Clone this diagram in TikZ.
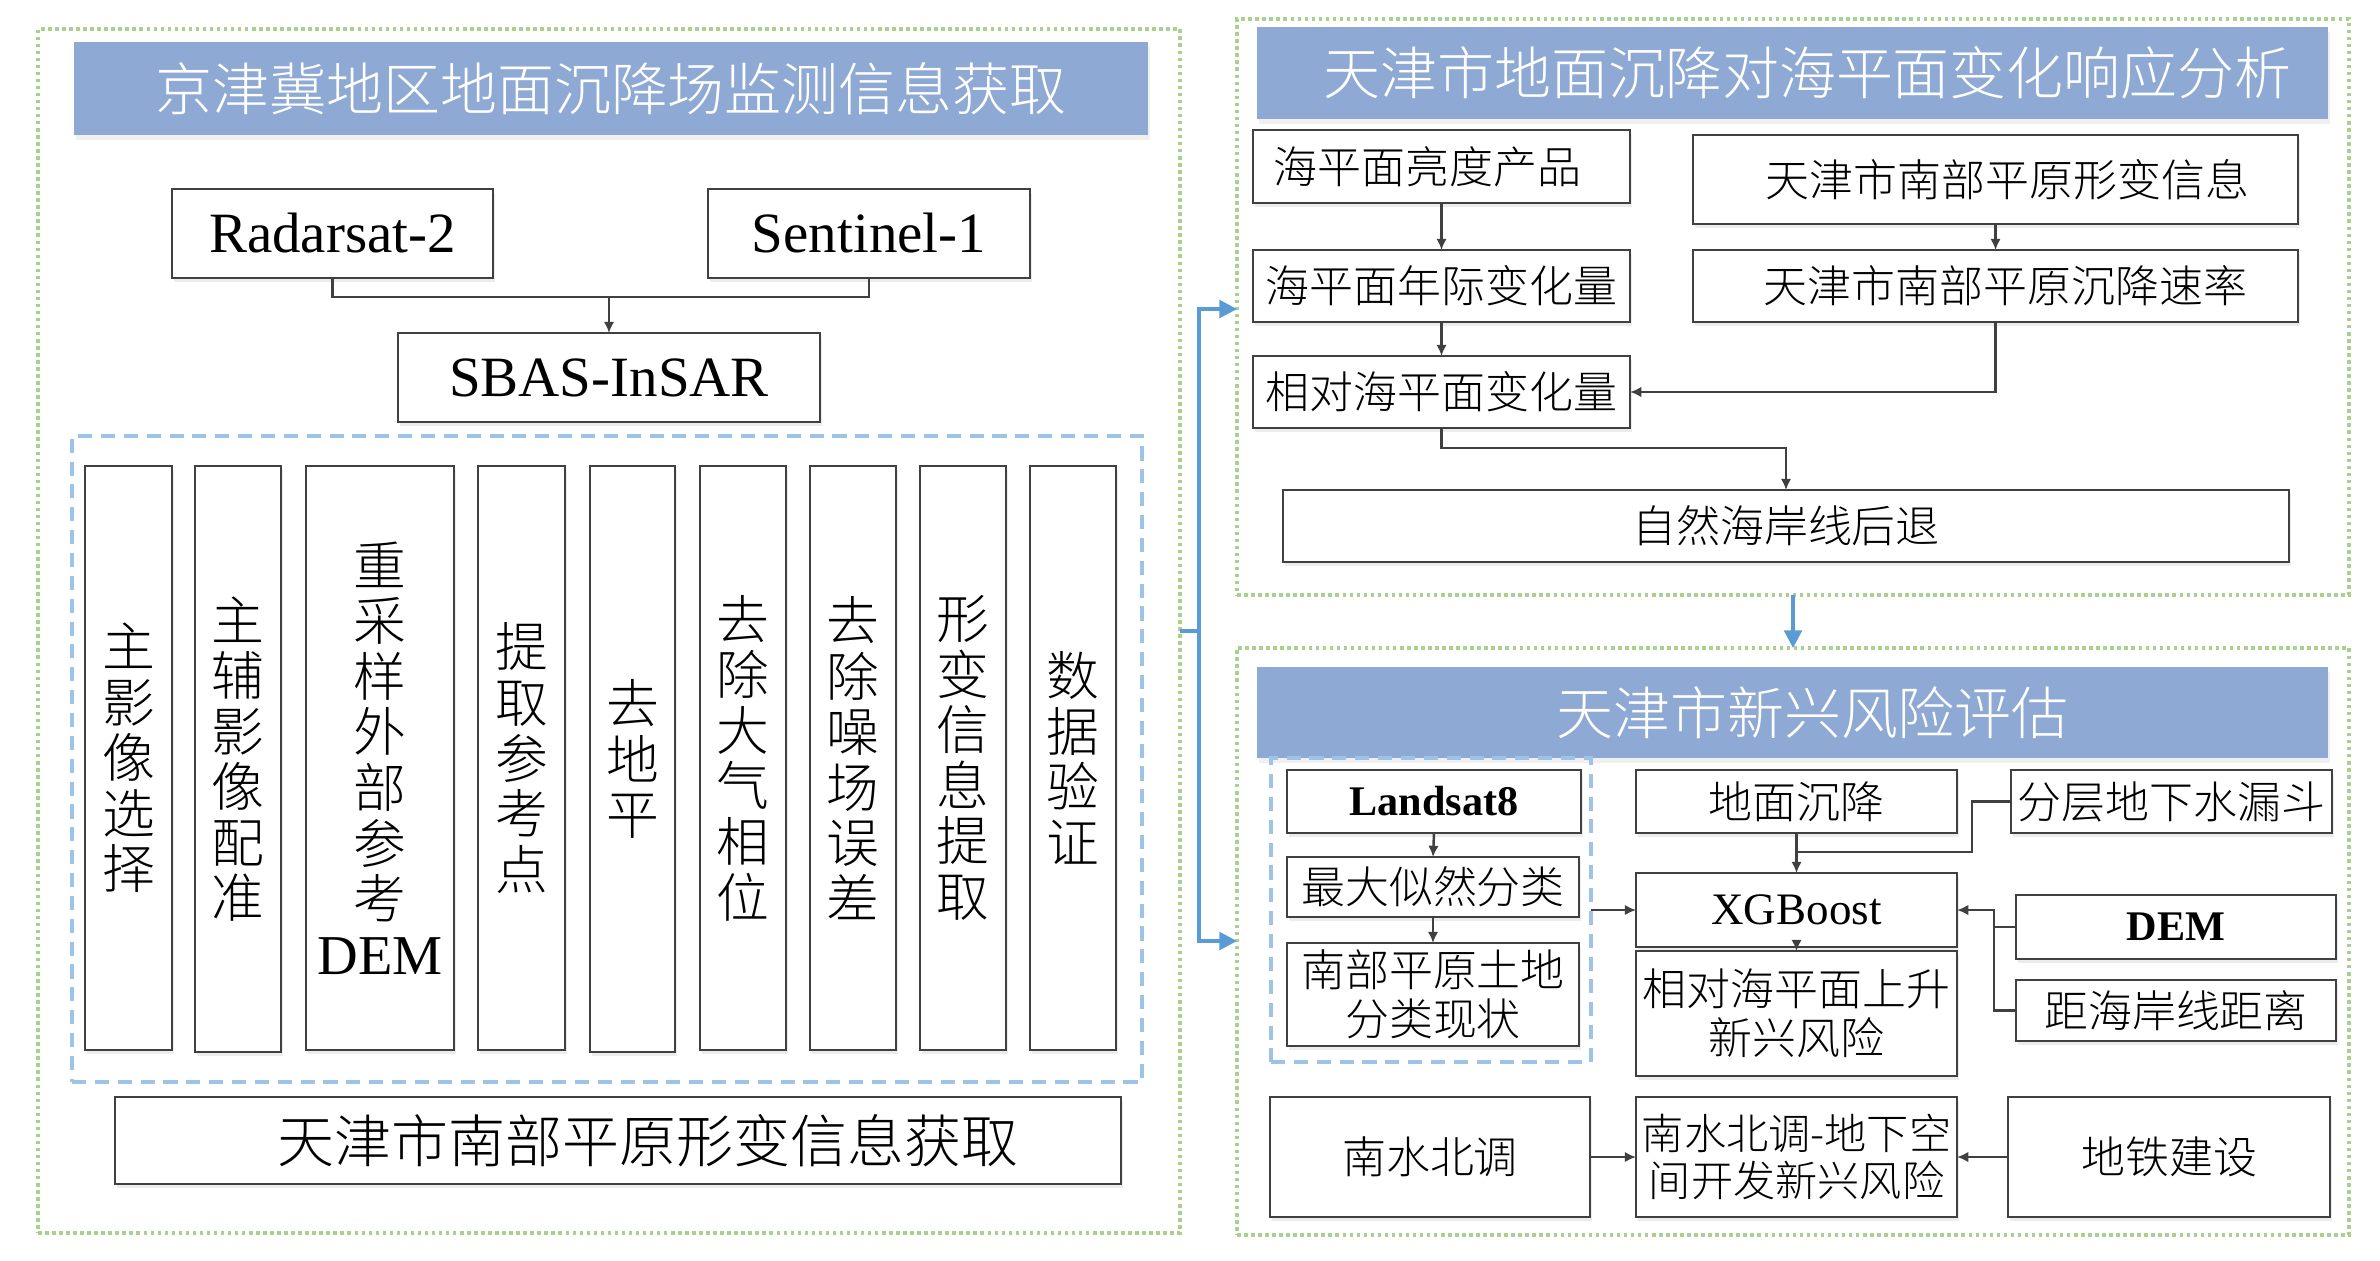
\documentclass[tikz,border=0pt]{standalone}
\usepackage{fontspec}
\setmainfont{Liberation Serif}
\newfontfamily\cjk{Noto Sans CJK SC Light}
\usetikzlibrary{arrows.meta,shadows,calc}
\definecolor{titlebl}{HTML}{8EA9D3}
\definecolor{grn}{HTML}{A9D18E}
\definecolor{dashbl}{HTML}{9DC3E6}
\definecolor{lnk}{HTML}{404040}
\definecolor{blu}{HTML}{5B9BD5}
\newcommand\rbox[7]{\node[#1, minimum width={(#5-#3)*0.01cm}, minimum height={(#6-#4)*0.01cm}] (#2) at ({(#3+#5)/2},{(#4+#6)/2}) {#7};}
\begin{document}
\begin{tikzpicture}[x=0.01cm,y=-0.01cm,
  box/.style={draw=lnk, line width=0.8pt, fill=white, inner sep=0pt, outer sep=0pt, align=center,
    font=\cjk\fontsize{12.5pt}{13.8pt}\selectfont,
    drop shadow={shadow xshift=0.6pt, shadow yshift=-1.2pt, opacity=0.15}},
  bigbox/.style={box, font=\cjk\fontsize{16.2pt}{17pt}\selectfont},
  vbox/.style={box, font=\cjk\fontsize{15pt}{15.8pt}\selectfont},
  lat/.style={box, font=\fontsize{16.2pt}{17pt}\selectfont},
  latr/.style={box, font=\fontsize{12.8pt}{14pt}\selectfont},
  latb/.style={box, font=\bfseries\fontsize{12pt}{14pt}\selectfont},
  title/.style={fill=titlebl, draw=none, inner sep=0pt, outer sep=0pt, text=white, align=center,
    font=\cjk\fontsize{16.2pt}{17pt}\selectfont,
    drop shadow={shadow xshift=0.5pt, shadow yshift=-1.5pt, opacity=0.12}},
  green/.style={draw=grn, line width=1pt, dash pattern=on 1pt off 1pt, inner sep=0pt, outer sep=0pt},
  dbl/.style={draw=dashbl, line width=0.9pt, dash pattern=on 4pt off 2.5pt, inner sep=0pt, outer sep=0pt},
  link/.style={draw=lnk, line width=0.7pt},
  arr/.style={link, -{Latex[length=3.2pt,width=3pt]}},
  bline/.style={draw=blu, line width=1pt},
  barr/.style={bline, -{Triangle[length=5pt,width=5pt]}}]
\useasboundingbox (0,0) rectangle (2380,1260);
% ---------- left panel ----------
\rbox{green}{lbox}{38}{29}{1180}{1233}{}
\rbox{title}{t1}{74}{42}{1148}{135}{京津冀地区地面沉降场监测信息获取}
\rbox{lat}{rad}{172}{189}{493}{278}{Radarsat-2}
\rbox{lat}{sen}{708}{189}{1030}{278}{Sentinel-1}
\rbox{lat}{sbas}{398}{333}{820}{422}{SBAS-InSAR}
\rbox{dbl}{pbox}{72}{436}{1142}{1082}{}
\rbox{vbox}{v1}{85}{466}{172}{1050}{主\\影\\像\\选\\择}
\rbox{vbox}{v2}{195}{466}{281}{1052}{主\\辅\\影\\像\\配\\准}
\rbox{vbox}{v3}{306}{466}{454}{1050}{重\\采\\样\\外\\部\\参\\考\\{\rmfamily\fontsize{16pt}{15.8pt}\selectfont DEM}}
\rbox{vbox}{v4}{478}{466}{565}{1050}{提\\取\\参\\考\\点}
\rbox{vbox}{v5}{590}{466}{675}{1052}{去\\地\\平}
\rbox{vbox}{v6}{700}{466}{786}{1050}{去\\除\\大\\气\\相\\位}
\rbox{vbox}{v7}{810}{466}{896}{1050}{去\\除\\噪\\场\\误\\差}
\rbox{vbox}{v8}{920}{466}{1006}{1050}{形\\变\\信\\息\\提\\取}
\rbox{vbox}{v9}{1030}{466}{1116}{1050}{数\\据\\验\\证}
\rbox{bigbox}{lout}{115}{1097}{1121}{1184}{\null\hspace*{0.6cm}天津市南部平原形变信息获取}
\coordinate (j1) at (609,297);
\draw[link] (rad.south) |- (j1);
\draw[link] (sen.south) |- (j1);
\draw[arr] (j1) -- (sbas.north);
% ---------- right top panel ----------
\rbox{green}{rtbox}{1237}{19}{2349}{595}{}
\rbox{title}{t2}{1257}{27}{2328}{119}{\null\hspace*{0.3cm}天津市地面沉降对海平面变化响应分析}
\rbox{box}{hp}{1253}{130}{1630}{203}{海平面亮度产品\hspace*{0.28cm}\null}
\rbox{box}{tx}{1693}{135}{2298}{224}{\null\hspace*{0.24cm}天津市南部平原形变信息}
\rbox{box}{hy}{1253}{250}{1630}{322}{海平面年际变化量}
\rbox{box}{tc}{1693}{250}{2298}{322}{\null\hspace*{0.2cm}天津市南部平原沉降速率}
\rbox{box}{xd}{1253}{356}{1630}{428}{相对海平面变化量}
\rbox{box}{coast}{1283}{490}{2289}{562}{自然海岸线后退}
\draw[arr] (hp.south) -- (hy.north);
\draw[arr] (tx.south) -- (tc.north);
\draw[arr] (hy.south) -- (xd.north);
\draw[arr] (tc.south) |- (xd.east);
\coordinate (j2) at (1441.5,448);
\draw[arr] (xd.south) -- (j2) -| (coast.north);
% ---------- right bottom panel ----------
\rbox{green}{rbbox}{1237}{648}{2349}{1235}{}
\rbox{title}{t3}{1257}{667}{2328}{758}{\null\hspace*{0.4cm}天津市新兴风险评估}
\rbox{dbl}{db}{1271}{758}{1591}{1062}{}
\rbox{latb}{ls}{1287}{770}{1581}{833}{Landsat8}
\rbox{box}{ml}{1287}{857}{1579}{917}{最大似然分类}
\rbox{box}{nb}{1287}{943}{1579}{1046}{南部平原土地\\分类现状}
\rbox{box}{dm}{1636}{770}{1957}{833}{地面沉降}
\rbox{box}{fc}{2011}{770}{2332}{833}{分层地下水漏斗}
\rbox{latr}{xg}{1636}{873}{1957}{947}{XGBoost}
\rbox{box}{xr}{1636}{951}{1957}{1076}{相对海平面上升\\新兴风险}
\rbox{latb}{dem}{2016}{895}{2336}{959}{DEM}
\rbox{box}{jl}{2016}{980}{2336}{1041}{距海岸线距离}
\rbox{box}{ns}{1270}{1097}{1590}{1217}{南水北调}
\rbox{box, font=\cjk\fontsize{12pt}{13.6pt}\selectfont}{nm}{1636}{1097}{1957}{1217}{南水北调-地下空\\间开发新兴风险}
\rbox{box}{dt}{2008}{1097}{2330}{1217}{地铁建设}
\draw[arr] (ls.south) -- (ml.north);
\draw[arr] (ml.south) -- (nb.north);
\draw[arr] (db.east |- xg.west) -- (xg.west);
\draw[arr] (dm.south) -- (xg.north);
\coordinate (j3) at (1796.5,852);
\draw[link] (fc.west) -- ++(-39,0) |- (j3);
\draw[arr] (xg.south) -- (xr.north);
\coordinate (vx) at (1994,0);
\draw[link] (dem.west) -- (dem.west -| vx);
\draw[arr] (jl.west) -| (vx |- xg.east) -- (xg.east);
\draw[arr] (ns.east) -- (nm.west);
\draw[arr] (dt.west) -- (nm.east);
% ---------- blue links between panels ----------
\coordinate (bv) at (1199,631);
\coordinate (bt) at (1237,309);
\coordinate (bb) at (1237,941);
\draw[bline] (lbox.east) -- (bv);
\draw[barr] (bv) |- (bt);
\draw[barr] (bv) |- (bb);
\draw[barr] (rtbox.south) -- (rbbox.north);
\end{tikzpicture}
\end{document}
